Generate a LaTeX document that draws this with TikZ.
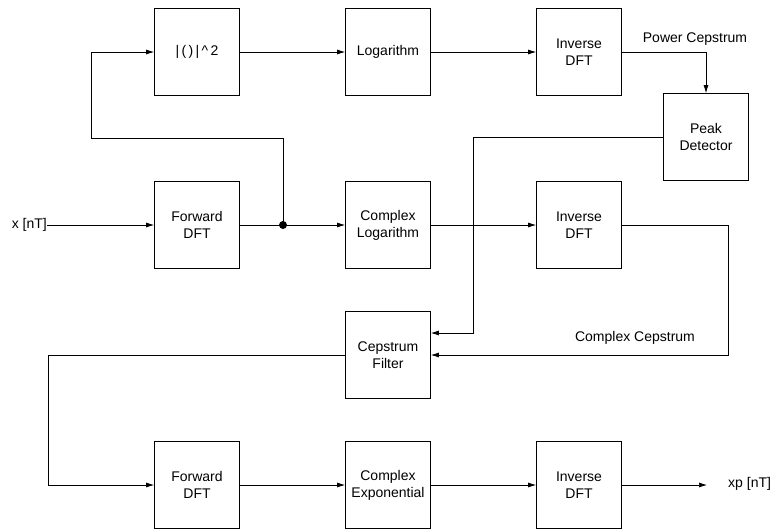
\documentclass[tikz,border=0pt]{standalone}
\usepackage{fontspec}
\setmainfont{Liberation Sans}
\usetikzlibrary{arrows.meta}
\begin{document}
\begin{tikzpicture}[x=1pt,y=-1pt,
  blk/.style={draw,line width=0.7pt,minimum width=85pt,minimum height=87pt,inner sep=0pt,align=center,font=\fontsize{14}{17}\selectfont},
  lbl/.style={inner sep=0pt,font=\fontsize{14}{17}\selectfont},
  con/.style={line width=0.7pt},
  arr/.style={con,-{Latex[length=8pt,width=5pt]}}]
\useasboundingbox (0,0) rectangle (782,531);
% blocks
\node[blk] (sq)   at (197,52)  {|\,(\,)\,|\,\textasciicircum\,2};
\node[blk] (log)  at (388,52)  {Logarithm};
\node[blk] (inv1) at (579,52)  {Inverse\\DFT};
\node[blk] (peak) at (706,137) {Peak\\Detector};
\node[blk] (fwd1) at (197,225) {Forward\\DFT};
\node[blk] (clog) at (388,225) {Complex\\Logarithm};
\node[blk] (inv2) at (579,225) {Inverse\\DFT};
\node[blk] (cf)   at (388,355) {Cepstrum\\Filter};
\node[blk] (fwd2) at (197,485) {Forward\\DFT};
\node[blk] (cexp) at (388,485) {Complex\\Exponential};
\node[blk] (inv3) at (579,485) {Inverse\\DFT};
% labels
\node[lbl,anchor=east] (xin) at (47,225) {x [nT]};
\node[lbl,anchor=west] (xout) at (728,484) {xp [nT]};
\node[lbl] (pc) at (695,39) {Power Cepstrum};
\node[lbl] (cc) at (635,338) {Complex Cepstrum};
% coordinates
\coordinate (j) at (283,225);
\coordinate (j1) at (283,138);
\coordinate (j2) at (91,138);
\coordinate (pk1) at (473,137);
\coordinate (pk2) at (473,333);
\coordinate (cc1) at (728,225);
\coordinate (cc2) at (728,355);
\coordinate (cf1) at (48,355);
\coordinate (cf2) at (48,485);
\coordinate (outend) at (707,485);
% connectors
\draw[arr] (xin.east) -- (fwd1.west);
\draw[con] (fwd1.east) -- (j);
\draw[arr] (j) -- (clog.west);
\fill (j) circle (4pt);
\draw[arr] (j) -- (j1) -- (j2) |- (sq.west);
\draw[arr] (sq.east) -- (log.west);
\draw[arr] (log.east) -- (inv1.east -| inv1.west);
\draw[arr] (inv1.east) -| (peak.north);
\draw[arr] (peak.west) -- (pk1) -- (pk2) -- (pk2 -| cf.east);
\draw[arr] (clog.east) -- (inv2.west);
\draw[arr] (inv2.east) -- (cc1) -- (cc2) -- (cf.east);
\draw[arr] (cf.west) -- (cf1) -- (cf2) -- (fwd2.west);
\draw[arr] (fwd2.east) -- (cexp.west);
\draw[arr] (cexp.east) -- (inv3.west);
\draw[arr] (inv3.east) -- (outend);
\end{tikzpicture}
\end{document}
